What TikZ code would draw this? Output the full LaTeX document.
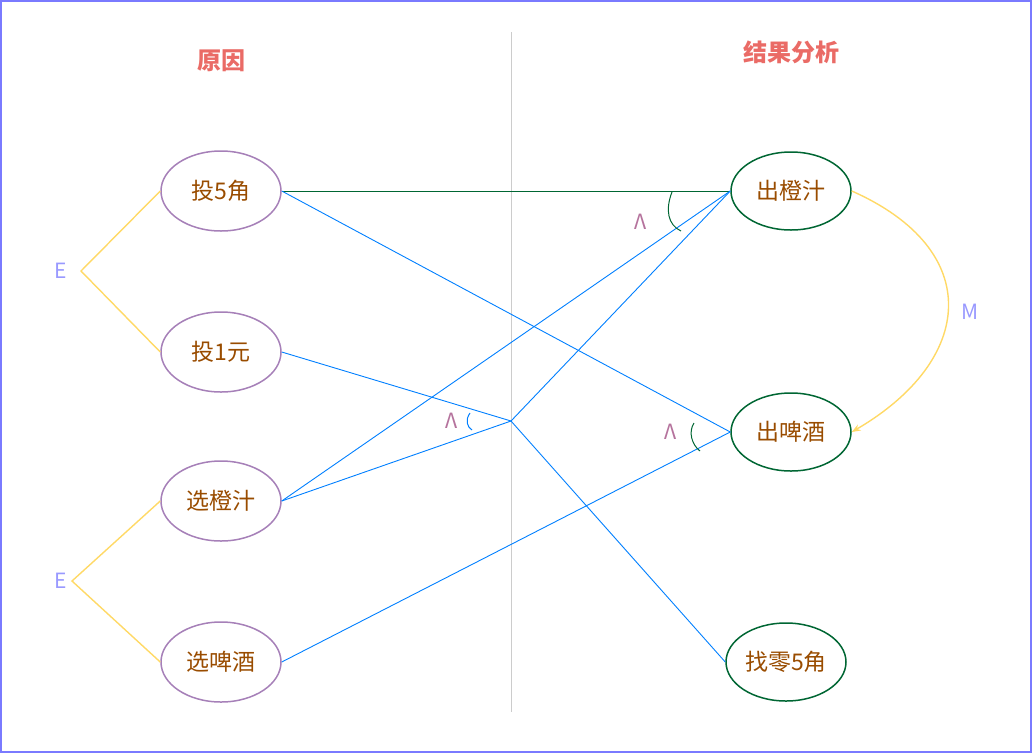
\documentclass[tikz,border=0pt]{standalone}
\usepackage{fontspec}
\setmainfont{Noto Sans CJK SC}
\usetikzlibrary{arrows.meta}
\definecolor{pur}{HTML}{A680B8}
\definecolor{grn}{HTML}{006633}
\definecolor{brn}{HTML}{994C00}
\definecolor{blu}{HTML}{007FFF}
\definecolor{yel}{HTML}{FFD966}
\definecolor{ttl}{HTML}{EA6B66}
\definecolor{lab}{HTML}{9999FF}
\definecolor{lam}{HTML}{B5739D}
\tikzset{
 lnode/.style={ellipse,draw=pur,line width=1.5pt,minimum width=120pt,minimum height=80pt,inner sep=0pt,text=brn,font=\fontsize{23}{26}\selectfont},
 rnode/.style={ellipse,draw=grn,line width=1.5pt,minimum width=120pt,minimum height=78pt,inner sep=0pt,text=brn,font=\fontsize{23}{26}\selectfont},
 bl/.style={blu,line width=0.9pt},
 yl/.style={yel,line width=1.4pt},
 ttlst/.style={text=ttl,font=\bfseries\fontsize{24}{28}\selectfont},
 lbl/.style={text=lab,font=\fontsize{21}{24}\selectfont},
 lm/.style={text=lam,font=\fontsize{21}{24}\selectfont}
}
\usetikzlibrary{shapes.geometric}
\begin{document}
\begin{tikzpicture}[x=1pt,y=-1pt]
\useasboundingbox (0,0) rectangle (1032,753);
\draw[draw=lab!80!blue,line width=1.3pt] (1,1) rectangle (1031,752);
\draw[gray!40,line width=1pt] (511,32) -- (511,712);
\node[ttlst] (t1) at (221,61) {原因};
\node[ttlst] (t2) at (791,52) {结果分析};
\node[lnode] (a) at (221,191) {投5角};
\node[lnode] (b) at (221,352) {投1元};
\node[lnode] (c) at (221,501) {选橙汁};
\node[lnode] (d) at (221,662) {选啤酒};
\node[rnode] (o) at (791,191) {出橙汁};
\node[rnode] (p) at (791,432) {出啤酒};
\node[rnode] (q) at (786,662) {找零5角};
\coordinate (j) at (511,421);
\coordinate (e1) at (81,271);
\coordinate (e2) at (72,581);
\draw[grn,line width=0.9pt] (a.east) -- (o.west);
\draw[bl] (a.east) -- (p.west);
\draw[bl] (b.east) -- (j);
\draw[bl] (c.east) -- (j);
\draw[bl] (j) -- (o.west);
\draw[bl] (j) -- (q.west);
\draw[bl] (c.east) -- (o.west);
\draw[bl] (d.east) -- (p.west);
\draw[yl] (a.west) -- (e1) -- (b.west);
\draw[yl] (c.west) -- (e2) -- (d.west);
\node[lbl] (le1) at (61,271) {E};
\node[lbl] (le2) at (61,581) {E};
\draw[yl,-{Stealth[length=9pt]}] (o.east) .. controls (985,250) and (975,360) .. (p.east);
\node[lbl] (lm1) at (970,312) {M};
\draw[grn,line width=1pt] (672,192) .. controls (665,210) and (668,225) .. (681,231);
\draw[blu,line width=1pt] (470,413) .. controls (465,420) and (467,427) .. (472,430);
\draw[grn,line width=1pt] (694,423) .. controls (688,432) and (692,445) .. (700,451);
\node[lm] (l1) at (641,222) {Λ};
\node[lm] (l2) at (452,421) {Λ};
\node[lm] (l3) at (671,432) {Λ};
\end{tikzpicture}
\end{document}
